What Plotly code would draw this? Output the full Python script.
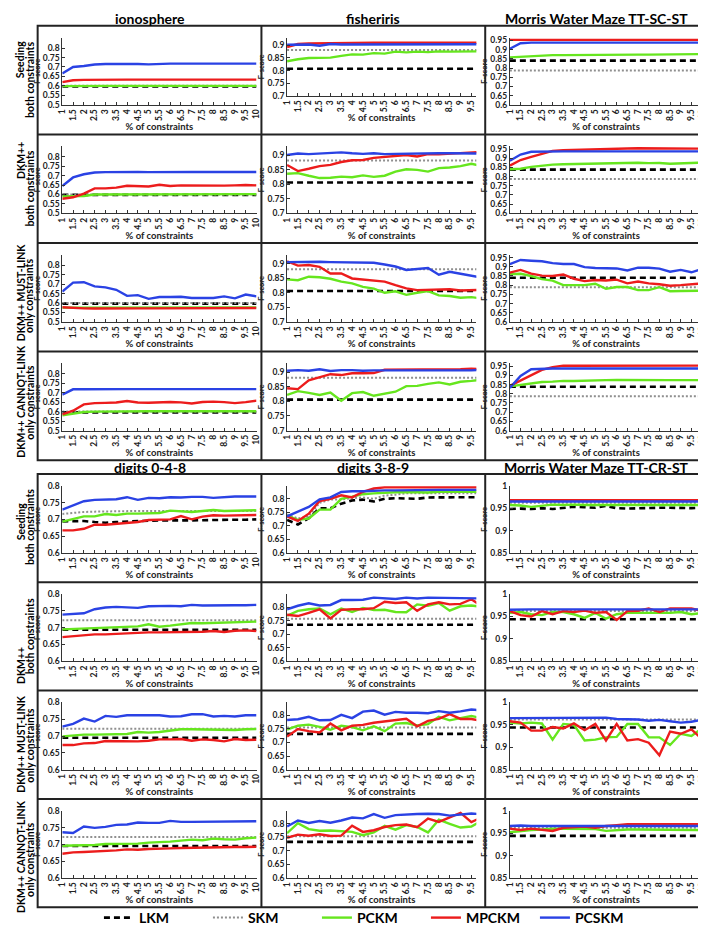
import plotly.graph_objects as go

# % of constraints (x axis of every panel)
PCT = [1, 1.5, 2, 2.5, 3, 3.5, 4, 4.5, 5, 5.5, 6, 6.5, 7, 7.5, 8, 8.5, 9, 9.5, 10]

METHODS = ["LKM", "SKM", "PCKM", "MPCKM", "PCSKM"]

TOP_TITLES = ["ionosphere", "fisheriris", "Morris Water Maze TT-SC-ST"]
BOTTOM_TITLES = ["digits 0-4-8", "digits 3-8-9", "Morris Water Maze TT-CR-ST"]
ROW_LABELS = [
    ("Seeding", "both constraints"),
    ("DKM++", "both constraints"),
    ("DKM++ MUST-LINK", "only constraints"),
    ("DKM++ CANNOT-LINK", "only constraints"),
]

# y tick values per dataset
IONO_TICKS = [0.5, 0.55, 0.6, 0.65, 0.7, 0.75, 0.8]
FISH_TICKS = [0.7, 0.75, 0.8, 0.85, 0.9]
MWM_SC_TICKS = [0.6, 0.65, 0.7, 0.75, 0.8, 0.85, 0.9, 0.95]
D048_TICKS = [0.6, 0.65, 0.7, 0.75, 0.8]
D389_TICKS = [0.6, 0.65, 0.7, 0.75, 0.8]
MWM_CR_TICKS = [0.85, 0.9, 0.95, 1]

# ---------------- ionosphere ----------------
iono_seed = dict(
    LKM=0.597, SKM=0.601,
    PCKM=[0.599, 0.600, 0.600, 0.600, 0.600, 0.600, 0.600, 0.600, 0.600, 0.600, 0.600, 0.600, 0.600, 0.600, 0.600, 0.600, 0.600, 0.600, 0.600],
    MPCKM=[0.620, 0.630, 0.632, 0.633, 0.633, 0.633, 0.633, 0.633, 0.633, 0.633, 0.633, 0.633, 0.633, 0.633, 0.633, 0.633, 0.633, 0.633, 0.633],
    PCSKM=[0.665, 0.700, 0.705, 0.713, 0.716, 0.717, 0.718, 0.716, 0.714, 0.717, 0.718, 0.718, 0.718, 0.718, 0.718, 0.718, 0.718, 0.718, 0.718],
)
iono_dkm = dict(
    LKM=0.598, SKM=0.600,
    PCKM=[0.590, 0.590, 0.592, 0.600, 0.600, 0.601, 0.601, 0.602, 0.602, 0.602, 0.602, 0.602, 0.602, 0.602, 0.602, 0.602, 0.602, 0.602, 0.602],
    MPCKM=[0.577, 0.585, 0.605, 0.632, 0.632, 0.636, 0.646, 0.643, 0.642, 0.651, 0.645, 0.648, 0.647, 0.649, 0.645, 0.647, 0.648, 0.650, 0.648],
    PCSKM=[0.645, 0.690, 0.707, 0.716, 0.718, 0.719, 0.719, 0.719, 0.718, 0.719, 0.719, 0.719, 0.719, 0.719, 0.719, 0.719, 0.719, 0.719, 0.719],
)
iono_ml = dict(
    LKM=0.597, SKM=0.600,
    PCKM=[0.576, 0.576, 0.576, 0.576, 0.576, 0.576, 0.576, 0.576, 0.576, 0.576, 0.577, 0.577, 0.577, 0.577, 0.577, 0.577, 0.577, 0.577, 0.577],
    MPCKM=[0.578, 0.574, 0.572, 0.571, 0.572, 0.572, 0.572, 0.572, 0.572, 0.572, 0.573, 0.573, 0.573, 0.573, 0.573, 0.574, 0.574, 0.574, 0.574],
    PCSKM=[0.660, 0.708, 0.710, 0.688, 0.683, 0.670, 0.638, 0.642, 0.622, 0.632, 0.632, 0.633, 0.627, 0.627, 0.627, 0.635, 0.625, 0.645, 0.635],
)
iono_cl = dict(
    LKM=0.596, SKM=0.600,
    PCKM=[0.580, 0.590, 0.598, 0.600, 0.601, 0.601, 0.602, 0.602, 0.602, 0.602, 0.602, 0.602, 0.602, 0.602, 0.602, 0.602, 0.602, 0.602, 0.602],
    MPCKM=[0.585, 0.605, 0.638, 0.645, 0.646, 0.648, 0.656, 0.648, 0.647, 0.650, 0.651, 0.649, 0.643, 0.651, 0.653, 0.650, 0.645, 0.650, 0.658],
    PCSKM=[0.690, 0.718, 0.718, 0.719, 0.719, 0.719, 0.719, 0.719, 0.719, 0.719, 0.719, 0.719, 0.719, 0.719, 0.719, 0.719, 0.719, 0.719, 0.719],
)

# ---------------- fisheriris ----------------
fish_seed = dict(
    LKM=0.807, SKM=0.881,
    PCKM=[0.837, 0.845, 0.850, 0.850, 0.851, 0.858, 0.864, 0.863, 0.869, 0.867, 0.875, 0.872, 0.875, 0.873, 0.876, 0.875, 0.876, 0.876, 0.876],
    MPCKM=[0.893, 0.905, 0.907, 0.908, 0.909, 0.909, 0.909, 0.910, 0.910, 0.910, 0.910, 0.910, 0.910, 0.910, 0.910, 0.910, 0.910, 0.910, 0.910],
    PCSKM=[0.902, 0.903, 0.903, 0.898, 0.905, 0.903, 0.903, 0.903, 0.904, 0.904, 0.904, 0.904, 0.904, 0.904, 0.904, 0.904, 0.904, 0.904, 0.904],
)
fish_dkm = dict(
    LKM=0.806, SKM=0.881,
    PCKM=[0.836, 0.838, 0.829, 0.821, 0.822, 0.826, 0.824, 0.830, 0.825, 0.829, 0.843, 0.851, 0.849, 0.843, 0.855, 0.857, 0.862, 0.870, 0.862],
    MPCKM=[0.866, 0.845, 0.853, 0.862, 0.866, 0.876, 0.882, 0.883, 0.890, 0.893, 0.898, 0.900, 0.895, 0.903, 0.902, 0.905, 0.908, 0.911, 0.911],
    PCSKM=[0.900, 0.905, 0.903, 0.905, 0.906, 0.909, 0.906, 0.904, 0.906, 0.903, 0.904, 0.905, 0.905, 0.906, 0.906, 0.906, 0.906, 0.906, 0.905],
)
fish_ml = dict(
    LKM=0.806, SKM=0.881,
    PCKM=[0.846, 0.843, 0.855, 0.853, 0.848, 0.838, 0.832, 0.820, 0.814, 0.800, 0.805, 0.793, 0.800, 0.806, 0.791, 0.789, 0.783, 0.785, 0.780],
    MPCKM=[0.908, 0.893, 0.895, 0.889, 0.866, 0.866, 0.849, 0.845, 0.840, 0.838, 0.826, 0.815, 0.809, 0.810, 0.812, 0.812, 0.808, 0.810, 0.810],
    PCSKM=[0.905, 0.906, 0.906, 0.906, 0.905, 0.905, 0.905, 0.905, 0.903, 0.897, 0.890, 0.878, 0.882, 0.885, 0.862, 0.872, 0.865, 0.860, 0.852],
)
fish_cl = dict(
    LKM=0.806, SKM=0.881,
    PCKM=[0.822, 0.835, 0.829, 0.822, 0.830, 0.802, 0.828, 0.832, 0.819, 0.827, 0.833, 0.852, 0.853, 0.860, 0.865, 0.858, 0.867, 0.870, 0.874],
    MPCKM=[0.845, 0.842, 0.872, 0.883, 0.893, 0.890, 0.896, 0.896, 0.897, 0.908, 0.908, 0.908, 0.909, 0.908, 0.909, 0.909, 0.910, 0.912, 0.910],
    PCSKM=[0.905, 0.907, 0.905, 0.910, 0.904, 0.907, 0.907, 0.905, 0.906, 0.906, 0.906, 0.906, 0.906, 0.906, 0.906, 0.906, 0.906, 0.906, 0.909],
)

# ---------------- Morris Water Maze TT-SC-ST ----------------
mwm_sc_seed = dict(
    LKM=0.840, SKM=0.787,
    PCKM=[0.858, 0.862, 0.866, 0.869, 0.870, 0.870, 0.871, 0.871, 0.872, 0.872, 0.872, 0.872, 0.873, 0.873, 0.873, 0.874, 0.874, 0.875, 0.876],
    MPCKM=[0.953, 0.953, 0.954, 0.954, 0.953, 0.953, 0.953, 0.953, 0.953, 0.953, 0.953, 0.953, 0.953, 0.953, 0.953, 0.953, 0.953, 0.953, 0.953],
    PCSKM=[0.905, 0.935, 0.938, 0.938, 0.938, 0.938, 0.938, 0.938, 0.938, 0.938, 0.938, 0.938, 0.938, 0.938, 0.938, 0.938, 0.938, 0.938, 0.938],
)
mwm_sc_dkm = dict(
    LKM=0.838, SKM=0.787,
    PCKM=[0.840, 0.843, 0.853, 0.860, 0.865, 0.867, 0.868, 0.870, 0.872, 0.874, 0.874, 0.874, 0.875, 0.873, 0.874, 0.870, 0.873, 0.875, 0.876],
    MPCKM=[0.860, 0.890, 0.907, 0.922, 0.940, 0.944, 0.946, 0.947, 0.950, 0.953, 0.952, 0.953, 0.954, 0.954, 0.954, 0.954, 0.954, 0.954, 0.952],
    PCSKM=[0.886, 0.920, 0.935, 0.937, 0.937, 0.937, 0.937, 0.937, 0.937, 0.937, 0.937, 0.937, 0.937, 0.937, 0.937, 0.937, 0.937, 0.937, 0.937],
)
mwm_sc_ml = dict(
    LKM=0.840, SKM=0.789,
    PCKM=[0.860, 0.862, 0.850, 0.833, 0.825, 0.800, 0.800, 0.800, 0.808, 0.780, 0.790, 0.790, 0.773, 0.773, 0.789, 0.767, 0.768, 0.770, 0.770],
    MPCKM=[0.868, 0.883, 0.863, 0.852, 0.850, 0.858, 0.835, 0.822, 0.828, 0.825, 0.830, 0.810, 0.820, 0.810, 0.805, 0.797, 0.800, 0.805, 0.810],
    PCSKM=[0.915, 0.937, 0.933, 0.930, 0.920, 0.915, 0.915, 0.898, 0.893, 0.891, 0.891, 0.880, 0.895, 0.895, 0.890, 0.873, 0.883, 0.870, 0.887],
)
mwm_sc_cl = dict(
    LKM=0.838, SKM=0.787,
    PCKM=[0.840, 0.848, 0.856, 0.864, 0.866, 0.870, 0.869, 0.872, 0.874, 0.874, 0.875, 0.874, 0.873, 0.874, 0.874, 0.874, 0.874, 0.874, 0.874],
    MPCKM=[0.843, 0.873, 0.900, 0.930, 0.945, 0.953, 0.952, 0.952, 0.953, 0.953, 0.951, 0.953, 0.953, 0.953, 0.953, 0.953, 0.953, 0.953, 0.953],
    PCSKM=[0.832, 0.897, 0.933, 0.937, 0.937, 0.937, 0.937, 0.937, 0.937, 0.937, 0.937, 0.937, 0.937, 0.937, 0.937, 0.937, 0.937, 0.937, 0.937],
)

# ---------------- digits 0-4-8 ----------------
d048_seed = dict(
    LKM=[0.694, 0.695, 0.695, 0.692, 0.690, 0.692, 0.694, 0.695, 0.696, 0.697, 0.698, 0.697, 0.697, 0.698, 0.698, 0.699, 0.699, 0.699, 0.700],
    SKM=[0.716, 0.720, 0.722, 0.723, 0.724, 0.725, 0.725, 0.725, 0.725, 0.725, 0.725, 0.725, 0.725, 0.725, 0.725, 0.725, 0.725, 0.725, 0.725],
    PCKM=[0.693, 0.702, 0.709, 0.709, 0.716, 0.713, 0.717, 0.717, 0.718, 0.719, 0.726, 0.724, 0.722, 0.725, 0.728, 0.725, 0.726, 0.727, 0.727],
    MPCKM=[0.667, 0.667, 0.672, 0.684, 0.684, 0.686, 0.690, 0.692, 0.698, 0.699, 0.700, 0.710, 0.700, 0.708, 0.712, 0.711, 0.712, 0.713, 0.713],
    PCSKM=[0.729, 0.741, 0.754, 0.758, 0.760, 0.760, 0.766, 0.758, 0.764, 0.763, 0.766, 0.765, 0.767, 0.767, 0.764, 0.767, 0.768, 0.768, 0.768],
)
d048_dkm = dict(
    LKM=0.694, SKM=0.722,
    PCKM=[0.695, 0.696, 0.698, 0.700, 0.701, 0.702, 0.703, 0.704, 0.710, 0.703, 0.706, 0.710, 0.714, 0.713, 0.714, 0.715, 0.714, 0.716, 0.718],
    MPCKM=[0.672, 0.675, 0.677, 0.680, 0.680, 0.682, 0.683, 0.684, 0.686, 0.686, 0.686, 0.686, 0.686, 0.688, 0.690, 0.687, 0.691, 0.692, 0.690],
    PCSKM=[0.739, 0.740, 0.743, 0.755, 0.760, 0.762, 0.761, 0.759, 0.764, 0.765, 0.765, 0.764, 0.768, 0.766, 0.767, 0.767, 0.767, 0.767, 0.768],
)
d048_ml = dict(
    LKM=0.695, SKM=0.722,
    PCKM=[0.699, 0.702, 0.704, 0.704, 0.704, 0.704, 0.706, 0.712, 0.710, 0.712, 0.716, 0.720, 0.720, 0.719, 0.718, 0.719, 0.718, 0.720, 0.721],
    MPCKM=[0.673, 0.673, 0.678, 0.679, 0.685, 0.684, 0.683, 0.684, 0.686, 0.690, 0.690, 0.691, 0.686, 0.690, 0.688, 0.684, 0.691, 0.688, 0.689],
    PCSKM=[0.728, 0.736, 0.752, 0.743, 0.760, 0.757, 0.762, 0.762, 0.762, 0.762, 0.758, 0.759, 0.765, 0.765, 0.758, 0.760, 0.758, 0.762, 0.762],
)
d048_cl = dict(
    LKM=0.695, SKM=0.722,
    PCKM=[0.696, 0.696, 0.698, 0.698, 0.701, 0.701, 0.701, 0.702, 0.705, 0.706, 0.708, 0.711, 0.714, 0.712, 0.717, 0.715, 0.714, 0.718, 0.720],
    MPCKM=[0.672, 0.676, 0.677, 0.678, 0.680, 0.682, 0.685, 0.684, 0.686, 0.686, 0.688, 0.689, 0.690, 0.690, 0.690, 0.691, 0.692, 0.692, 0.693],
    PCSKM=[0.736, 0.734, 0.753, 0.749, 0.752, 0.758, 0.759, 0.765, 0.764, 0.764, 0.770, 0.767, 0.767, 0.767, 0.768, 0.769, 0.769, 0.769, 0.769],
)

# ---------------- digits 3-8-9 ----------------
d389_seed = dict(
    LKM=[0.722, 0.705, 0.728, 0.765, 0.765, 0.782, 0.794, 0.797, 0.790, 0.800, 0.802, 0.802, 0.800, 0.805, 0.805, 0.805, 0.805, 0.806, 0.806],
    SKM=[0.742, 0.727, 0.735, 0.785, 0.797, 0.797, 0.802, 0.805, 0.800, 0.812, 0.815, 0.820, 0.820, 0.819, 0.820, 0.820, 0.820, 0.820, 0.820],
    PCKM=[0.738, 0.722, 0.727, 0.760, 0.760, 0.800, 0.808, 0.817, 0.820, 0.823, 0.824, 0.825, 0.825, 0.823, 0.826, 0.826, 0.825, 0.826, 0.826],
    MPCKM=[0.735, 0.718, 0.745, 0.792, 0.800, 0.813, 0.805, 0.826, 0.838, 0.842, 0.842, 0.842, 0.843, 0.841, 0.843, 0.843, 0.843, 0.842, 0.842],
    PCSKM=[0.735, 0.753, 0.770, 0.798, 0.805, 0.825, 0.828, 0.828, 0.830, 0.831, 0.831, 0.832, 0.833, 0.833, 0.833, 0.833, 0.833, 0.833, 0.833],
)
d389_dkm = dict(
    LKM=0.735, SKM=0.757,
    PCKM=[0.768, 0.786, 0.792, 0.795, 0.773, 0.795, 0.782, 0.797, 0.789, 0.790, 0.782, 0.781, 0.810, 0.805, 0.815, 0.787, 0.803, 0.806, 0.800],
    MPCKM=[0.772, 0.767, 0.779, 0.792, 0.758, 0.790, 0.792, 0.792, 0.796, 0.820, 0.815, 0.818, 0.786, 0.810, 0.818, 0.810, 0.812, 0.829, 0.802],
    PCSKM=[0.792, 0.805, 0.814, 0.806, 0.808, 0.826, 0.826, 0.827, 0.835, 0.833, 0.830, 0.835, 0.832, 0.835, 0.835, 0.834, 0.834, 0.834, 0.832],
)
d389_ml = dict(
    LKM=0.732, SKM=0.755,
    PCKM=[0.748, 0.762, 0.766, 0.758, 0.747, 0.762, 0.757, 0.745, 0.760, 0.742, 0.770, 0.772, 0.763, 0.768, 0.795, 0.782, 0.790, 0.798, 0.790],
    MPCKM=[0.722, 0.750, 0.742, 0.737, 0.770, 0.745, 0.762, 0.765, 0.773, 0.778, 0.782, 0.788, 0.760, 0.780, 0.787, 0.805, 0.787, 0.787, 0.780],
    PCSKM=[0.783, 0.786, 0.795, 0.782, 0.783, 0.802, 0.790, 0.814, 0.818, 0.803, 0.813, 0.810, 0.810, 0.808, 0.816, 0.810, 0.815, 0.822, 0.818],
)
d389_cl = dict(
    LKM=0.733, SKM=0.754,
    PCKM=[0.765, 0.802, 0.780, 0.774, 0.775, 0.772, 0.770, 0.758, 0.768, 0.792, 0.778, 0.795, 0.788, 0.768, 0.815, 0.800, 0.786, 0.790, 0.812],
    MPCKM=[0.748, 0.760, 0.756, 0.761, 0.755, 0.756, 0.793, 0.770, 0.776, 0.788, 0.795, 0.797, 0.787, 0.819, 0.807, 0.823, 0.840, 0.806, 0.825],
    PCSKM=[0.790, 0.812, 0.803, 0.810, 0.804, 0.812, 0.823, 0.820, 0.836, 0.822, 0.832, 0.835, 0.836, 0.837, 0.836, 0.830, 0.833, 0.838, 0.835],
)

# ---------------- Morris Water Maze TT-CR-ST ----------------
mwm_cr_seed = dict(
    LKM=[0.948, 0.949, 0.948, 0.950, 0.948, 0.951, 0.953, 0.952, 0.951, 0.955, 0.950, 0.949, 0.950, 0.951, 0.951, 0.951, 0.950, 0.950, 0.951],
    SKM=0.962,
    PCKM=[0.957, 0.956, 0.953, 0.955, 0.958, 0.957, 0.958, 0.957, 0.957, 0.958, 0.958, 0.957, 0.957, 0.957, 0.957, 0.957, 0.957, 0.957, 0.957],
    MPCKM=[0.968, 0.968, 0.968, 0.968, 0.968, 0.968, 0.968, 0.968, 0.968, 0.968, 0.968, 0.968, 0.968, 0.968, 0.968, 0.968, 0.968, 0.968, 0.968],
    PCSKM=[0.965, 0.965, 0.965, 0.965, 0.965, 0.965, 0.965, 0.965, 0.965, 0.965, 0.965, 0.965, 0.965, 0.965, 0.965, 0.965, 0.965, 0.965, 0.965],
)
mwm_cr_dkm = dict(
    LKM=0.944, SKM=0.962,
    PCKM=[0.958, 0.960, 0.955, 0.953, 0.960, 0.960, 0.955, 0.947, 0.958, 0.945, 0.955, 0.958, 0.958, 0.958, 0.957, 0.958, 0.960, 0.955, 0.958],
    MPCKM=[0.962, 0.953, 0.950, 0.962, 0.955, 0.962, 0.960, 0.963, 0.958, 0.960, 0.942, 0.962, 0.963, 0.968, 0.960, 0.968, 0.968, 0.968, 0.962],
    PCSKM=[0.965, 0.966, 0.966, 0.966, 0.966, 0.966, 0.966, 0.966, 0.966, 0.966, 0.966, 0.966, 0.966, 0.966, 0.966, 0.966, 0.966, 0.966, 0.966],
)
mwm_cr_ml = dict(
    LKM=0.944, SKM=0.962,
    PCKM=[0.955, 0.953, 0.955, 0.953, 0.917, 0.952, 0.950, 0.915, 0.917, 0.922, 0.923, 0.952, 0.952, 0.922, 0.922, 0.905, 0.930, 0.925, 0.942],
    MPCKM=[0.958, 0.955, 0.937, 0.937, 0.945, 0.942, 0.953, 0.938, 0.952, 0.915, 0.952, 0.915, 0.918, 0.910, 0.882, 0.935, 0.930, 0.940, 0.918],
    PCSKM=[0.965, 0.965, 0.966, 0.966, 0.966, 0.966, 0.966, 0.966, 0.966, 0.966, 0.963, 0.962, 0.962, 0.959, 0.961, 0.958, 0.955, 0.957, 0.961],
)
mwm_cr_cl = dict(
    LKM=0.944, SKM=0.962,
    PCKM=[0.952, 0.955, 0.957, 0.958, 0.960, 0.960, 0.960, 0.960, 0.959, 0.955, 0.957, 0.958, 0.958, 0.958, 0.957, 0.958, 0.958, 0.957, 0.957],
    MPCKM=[0.960, 0.957, 0.960, 0.958, 0.955, 0.962, 0.963, 0.965, 0.962, 0.966, 0.968, 0.970, 0.970, 0.970, 0.970, 0.970, 0.970, 0.970, 0.970],
    PCSKM=[0.966, 0.967, 0.966, 0.966, 0.966, 0.966, 0.966, 0.966, 0.966, 0.966, 0.966, 0.966, 0.966, 0.966, 0.966, 0.966, 0.966, 0.966, 0.966],
)

# panels[block][row][col]
panels = [
    [
        [iono_seed, fish_seed, mwm_sc_seed],
        [iono_dkm, fish_dkm, mwm_sc_dkm],
        [iono_ml, fish_ml, mwm_sc_ml],
        [iono_cl, fish_cl, mwm_sc_cl],
    ],
    [
        [d048_seed, d389_seed, mwm_cr_seed],
        [d048_dkm, d389_dkm, mwm_cr_dkm],
        [d048_ml, d389_ml, mwm_cr_ml],
        [d048_cl, d389_cl, mwm_cr_cl],
    ],
]
y_ticks = [[IONO_TICKS, FISH_TICKS, MWM_SC_TICKS], [D048_TICKS, D389_TICKS, MWM_CR_TICKS]]
y_ranges = [[[0.5, 0.855], [0.7, 0.93], [0.6, 0.965]], [[0.6, 0.8], [0.6, 0.848], [0.85, 1.0]]]
titles = [TOP_TITLES, BOTTOM_TITLES]

# styling
styles = {
    "LKM": dict(color="black", width=2.6, dash="6px,4px"),
    "SKM": dict(color="#8f8f8f", width=2, dash="2px,2px"),
    "PCKM": dict(color="#66e61e", width=2.4),
    "MPCKM": dict(color="#ec1c1c", width=2.4),
    "PCSKM": dict(color="#2a42e4", width=2.4),
}

W, H = 706, 926
FONT = "Lato"


def fx(px):
    return px / W


def fy(py):
    return 1 - py / H


block_top = [13, 467]
row_h = [110, 109.75]
cell_x = [(25, 252), (252, 479), (479, 705)]
plot_x = [(50, 247), (278, 470), (504, 699)]
x_ranges = [[1, 10], [1, 9.73], [1, 10]]
# vertical centre (px below the cell top) of each line of the row labels
label_pos = [
    [(34, 55), (26, 55), (50, 54), (50, 52)],
    [(48, 54), (84, 55), (54, 56), (58, 62)],
]

fig = go.Figure()
layout = {}
shapes = []
annotations = []

for b in range(2):
    for r in range(4):
        for c in range(3):
            i = b * 12 + r * 3 + c + 1
            cell_top = block_top[b] + r * row_h[b]
            bottom = cell_top + (71 if (b == 0 and r == 0 and c == 1) else 80)
            sfx = "" if i == 1 else str(i)
            data = panels[b][r][c]
            for m in METHODS:
                ys = data[m]
                if not isinstance(ys, list):
                    ys = [ys] * len(PCT)
                fig.add_trace(go.Scatter(
                    x=PCT, y=ys, mode="lines", name=m,
                    line=styles[m], legendgroup=m, showlegend=(i == 1),
                    xaxis="x" + sfx, yaxis="y" + sfx,
                    hovertemplate=m + ": %{y:.3f}<extra></extra>",
                ))
            ticks = y_ticks[b][c]
            layout["xaxis" + sfx] = dict(
                domain=[fx(plot_x[c][0]), fx(plot_x[c][1])],
                anchor="y" + sfx, range=x_ranges[c],
                tickmode="array", tickvals=PCT, ticktext=[f"{v:g}" for v in PCT],
                tickangle=-90, tickfont=dict(size=8.5, family=FONT, weight="bold", color="#222"),
                ticks="inside", ticklen=3, tickcolor="#333",
                showline=True, linecolor="#333", linewidth=1,
                showgrid=False, zeroline=False,
                title=dict(text="% of constraints", standoff=2,
                           font=dict(size=9.5, family=FONT, weight="bold", color="#222")),
            )
            layout["yaxis" + sfx] = dict(
                domain=[fy(bottom), fy(cell_top + 12)],
                anchor="x" + sfx, range=y_ranges[b][c],
                tickmode="array", tickvals=ticks, ticktext=[f"{v:g}" for v in ticks],
                tickfont=dict(size=8.5, family=FONT, weight="bold", color="#222"),
                ticks="inside", ticklen=3, tickcolor="#333",
                showline=True, linecolor="#333", linewidth=1,
                showgrid=False, zeroline=False,
                title=dict(text="F-score", standoff=1,
                           font=dict(size=7.5, family=FONT, weight="bold", color="#222")),
            )

    # block frame
    top = block_top[b]
    bot = top + 4 * row_h[b]
    shapes.append(dict(type="rect", xref="paper", yref="paper",
                       x0=fx(25), x1=fx(705), y0=fy(bot), y1=fy(top),
                       line=dict(color="#222", width=2)))
    for r in range(1, 4):
        yy = top + r * row_h[b]
        shapes.append(dict(type="line", xref="paper", yref="paper",
                           x0=fx(25), x1=fx(705), y0=fy(yy), y1=fy(yy),
                           line=dict(color="#222", width=2)))
    for c in range(1, 3):
        xx = cell_x[c][0]
        shapes.append(dict(type="line", xref="paper", yref="paper",
                           x0=fx(xx), x1=fx(xx), y0=fy(bot), y1=fy(top),
                           line=dict(color="#222", width=2)))

    # column titles
    for c in range(3):
        annotations.append(dict(
            text=titles[b][c], xref="paper", yref="paper",
            x=fx((cell_x[c][0] + cell_x[c][1]) / 2), y=fy(top - 7),
            xanchor="center", yanchor="middle", showarrow=False,
            font=dict(size=14, family=FONT, weight="bold", color="black"),
        ))
    # row labels: two rotated lines each
    for r in range(4):
        for k, (txt, xc) in enumerate(zip(ROW_LABELS[r], (8, 17))):
            annotations.append(dict(
                text=txt, xref="paper", yref="paper", textangle=-90,
                x=fx(xc), y=fy(top + r * row_h[b] + label_pos[b][r][k]),
                xanchor="center", yanchor="middle", showarrow=False,
                font=dict(size=10.5, family=FONT, weight="bold", color="black"),
            ))

fig.update_layout(
    width=W, height=H,
    margin=dict(l=0, r=0, t=0, b=0),
    plot_bgcolor="white", paper_bgcolor="white",
    font=dict(family=FONT, color="#222"),
    shapes=shapes, annotations=annotations,
    legend=dict(orientation="h", x=0.515, xanchor="center", y=fy(917), yanchor="middle",
                entrywidth=64, entrywidthmode="pixels",
                font=dict(size=14, family=FONT, weight="bold", color="black"),
                bgcolor="rgba(0,0,0,0)"),
    **layout,
)

fig.write_html("out.html")
